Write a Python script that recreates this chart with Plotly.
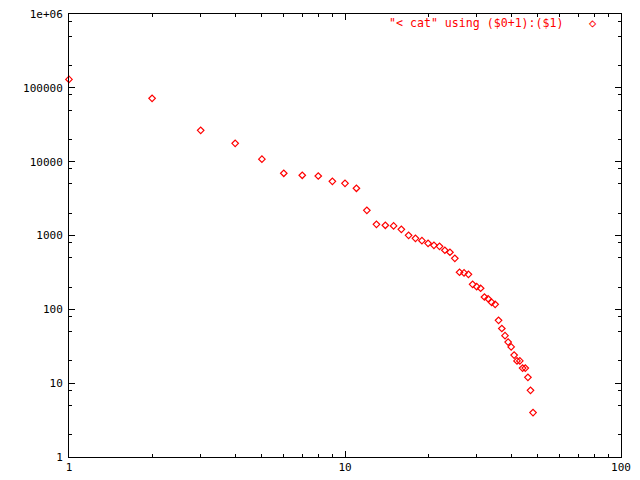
import plotly.graph_objects as go

# Data: values (x = index + 1)
counts = [130000, 72000, 26600, 17700, 10800, 6960, 6540, 6400, 5420, 5090,
          4360, 2190, 1418, 1375, 1350, 1213, 1006, 916, 851, 784,
          736, 714, 631, 593, 491, 318, 311, 298, 218, 203,
          193, 147, 139, 124, 117, 71, 55, 44, 36, 31,
          24, 20, 20, 16, 16, 12, 8, 4]
ranks = list(range(1, len(counts) + 1))

x_tickvals = [1, 10, 100]
x_ticktext = ["1", "10", "100"]
x_minor = [m * d for d in (1, 10) for m in range(2, 10)]
y_tickvals = [1, 10, 100, 1000, 10000, 100000, 1000000]
y_ticktext = ["1", "10", "100", "1000", "10000", "100000", "1e+06"]
y_minor = [m * d for d in (1, 10, 100, 1000, 10000, 100000) for m in (2, 5, 8)]
legend_text = '"< cat" using ($0+1):($1)'

FONT = "DejaVu Sans Mono"
RED = "#ff0000"

fig = go.Figure()
fig.add_trace(go.Scatter(
    x=ranks, y=counts, mode="markers",
    marker=dict(symbol="diamond-open", size=5, color=RED, line=dict(width=1.2, color=RED)),
    cliponaxis=False, showlegend=False, name=legend_text,
))

axis_common = dict(
    type="log", showgrid=False, zeroline=False, automargin=False,
    showline=True, linecolor="black", linewidth=1, mirror="ticks",
    ticks="inside", ticklen=6, tickwidth=1, tickcolor="black",
    tickfont=dict(family=FONT, size=11, color="black"),
    tickmode="array", ticklabeloverflow="allow",
)

fig.update_xaxes(**axis_common, range=[0, 2], tickvals=x_tickvals, ticktext=x_ticktext,
                 minor=dict(ticks="inside", ticklen=3, tickwidth=1, tickcolor="black",
                            tickmode="array", tickvals=x_minor))
fig.update_yaxes(**axis_common, range=[0, 6], tickvals=y_tickvals, ticktext=y_ticktext,
                 ticklabelstandoff=3,
                 minor=dict(ticks="inside", ticklen=3, tickwidth=1, tickcolor="black",
                            tickmode="array", tickvals=y_minor))

fig.add_annotation(xref="paper", yref="paper", x=0.900, y=0.979, xanchor="right", yanchor="middle",
                   text=legend_text, showarrow=False,
                   font=dict(family=FONT, size=11.6, color=RED))
fig.add_annotation(xref="paper", yref="paper", x=0.950, y=0.979, xanchor="center", yanchor="middle",
                   text="◇", showarrow=False,
                   font=dict(family=FONT, size=12, color=RED))

# the page adds an ~8px body margin; margins below compensate so the plot box
# lands where the reference draws it
fig.update_layout(
    width=640, height=480,
    margin=dict(l=61, r=27, t=6, b=31),
    paper_bgcolor="white", plot_bgcolor="white",
    font=dict(family=FONT, size=11, color="black"),
)

fig.write_html("out.html")
